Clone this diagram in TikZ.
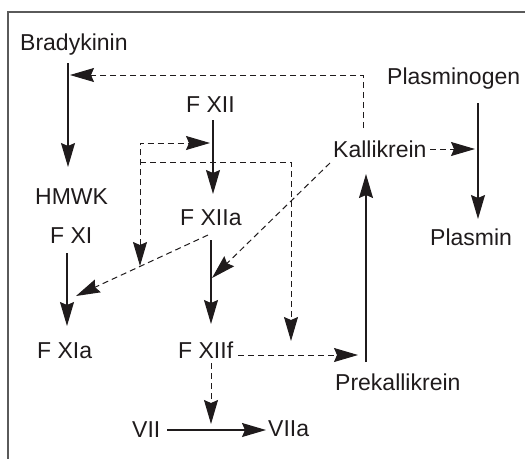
\documentclass[tikz,border=0pt]{standalone}
\usepackage{fontspec}
\setmainfont{Liberation Sans}
\usetikzlibrary{arrows.meta}
\definecolor{ink}{HTML}{1F1B1C}
\definecolor{framegray}{HTML}{5A5A5A}
\begin{document}
\begin{tikzpicture}[x=1pt,y=-1pt,
  tip/.style={-{Stealth[length=24pt,width=14pt,inset=3pt]}},
  lbl/.style={anchor=base west,inner sep=0pt,text=ink,font=\fontsize{23}{27}\selectfont},
  conv/.style={draw=ink,line width=1.3pt,tip},
  act/.style={draw=ink,line width=1pt,dash pattern=on 6pt off 4pt,tip},
  twoway/.style={act,{Stealth[length=24pt,width=14pt,inset=3pt]}-{Stealth[length=24pt,width=14pt,inset=3pt]}}]
\useasboundingbox (0,0) rectangle (525,459);

% open frame: top and left edges only
\draw[framegray,line width=1.4pt] (525,12) -- (8,12) -- (8,459);

% labels
\node[lbl] (brady) at (20,50)  {Bradykinin};
\node[lbl] (plgn)  at (387,84) {Plasminogen};
\node[lbl] (f12)   at (186,112) {F XII};
\node[lbl] (kal)   at (333,157) {Kallikrein};
\node[lbl] (hmwk)  at (35,204) {HMWK};
\node[lbl] (f12a)  at (180,225) {F XIIa};
\node[lbl] (f11)   at (50,243) {F XI};
\node[lbl] (plsm)  at (430,245) {Plasmin};
\node[lbl] (f11a)  at (37,358) {F XIa};
\node[lbl] (f12f)  at (178,358) {F XIIf};
\node[lbl] (pkal)  at (335,390) {Prekallikrein};
\node[lbl] (f7)    at (132,437) {VII};
\node[lbl] (f7a)   at (268,436) {VIIa};

% connector end points
\coordinate (bradyS)  at (68,63);
\coordinate (hmwkN)   at (68,167);
\coordinate (kalUp)   at (363,128);
\coordinate (kalTurn) at (363,75);
\coordinate (bkLine)  at (70,75);
\coordinate (plgnS)   at (478,103);
\coordinate (plsmN)   at (478,219);
\coordinate (f12S)    at (213,120);
\coordinate (f12aN)   at (213,194);
\coordinate (loopDn)  at (140,266);
\coordinate (loopR)   at (210,143);
\coordinate (barL)    at (140,162);
\coordinate (barR)    at (291,162);
\coordinate (barDn)   at (291,341);
\coordinate (kalE)    at (430,149);
\coordinate (plgnLine) at (475,149);
\coordinate (kalSW)   at (330,163);
\coordinate (f12aLine) at (212,278);
\coordinate (pkalN)   at (366,362);
\coordinate (kalS)    at (366,174);
\coordinate (f11S)    at (67,253);
\coordinate (f11aN)   at (67,326);
\coordinate (f12aSW)  at (208,235);
\coordinate (f11Line) at (76,296);
\coordinate (f12aS)   at (211,240);
\coordinate (f12fN)   at (211,324);
\coordinate (f12fE)   at (238,355);
\coordinate (pkalLine) at (358,355);
\coordinate (f12fS)   at (211,363);
\coordinate (f7Line)  at (211,424);
\coordinate (f7E)     at (167,430);
\coordinate (f7aW)    at (266,430);

% conversions (solid)
\draw[conv] (bradyS) -- (hmwkN);
\draw[conv] (plgnS) -- (plsmN);
\draw[conv] (f12S) -- (f12aN);
\draw[conv] (pkalN) -- (kalS);
\draw[conv] (f11S) -- (f11aN);
\draw[conv] (f12aS) -- (f12fN);
\draw[conv] (f7E) -- (f7aW);

% activations (dashed)
\draw[act] (kalUp) -- (kalTurn) -- (bkLine);
\draw[twoway] (loopDn) |- (loopR);
\draw[act] (barL) -- (barR) -- (barDn);
\draw[act] (kalE) -- (plgnLine);
\draw[act] (kalSW) -- (f12aLine);
\draw[act] (f12aSW) -- (f11Line);
\draw[act] (f12fE) -- (pkalLine);
\draw[act] (f12fS) -- (f7Line);
\end{tikzpicture}
\end{document}
